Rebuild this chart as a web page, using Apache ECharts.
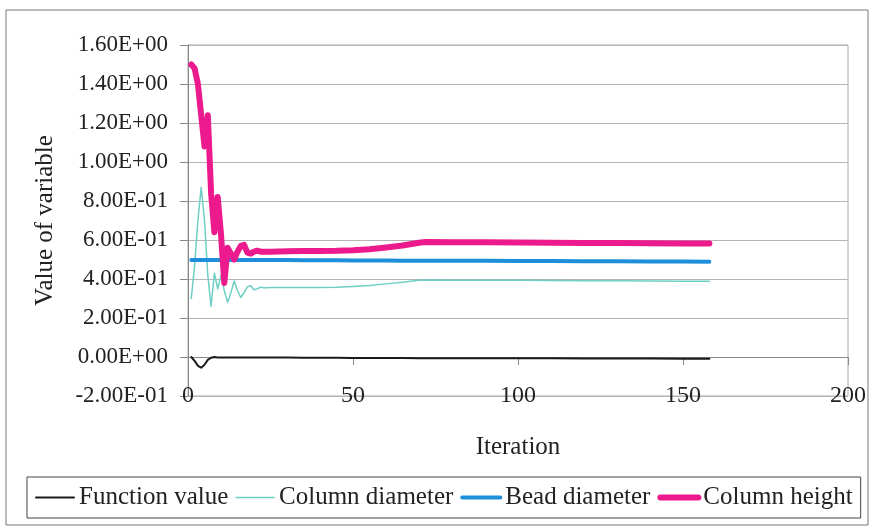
<!DOCTYPE html>
<html>
<head>
<meta charset="utf-8">
<script src="https://cdn.jsdelivr.net/npm/echarts@6/dist/echarts.min.js"></script>
<style>
html,body{margin:0;padding:0;background:#fff;}
#chart{width:875px;height:530px;}
</style>
</head>
<body>
<div id="chart"></div>
<script>
const iterations = [1,2,3,4,5,6,7,8,9,10,11,12,13,14,15,16,17,18,19,20,21,22,23,24,25,
  30,35,40,45,50,55,60,65,70,72,80,90,100,110,120,130,140,150,158];
const functionValue = [0.000,-0.020,-0.045,-0.055,-0.040,-0.015,-0.004,0.000,-0.002,-0.003,-0.003,-0.003,-0.003,-0.003,-0.003,-0.003,-0.003,-0.003,-0.003,-0.003,-0.003,-0.003,-0.003,-0.003,-0.003,
  -0.003,-0.004,-0.004,-0.004,-0.005,-0.005,-0.005,-0.005,-0.006,-0.006,-0.006,-0.006,-0.007,-0.007,-0.008,-0.008,-0.008,-0.009,-0.009];
const columnDiameter = [0.30,0.47,0.70,0.87,0.70,0.42,0.26,0.43,0.35,0.42,0.34,0.28,0.33,0.39,0.34,0.305,0.33,0.36,0.365,0.345,0.35,0.358,0.355,0.355,0.356,
  0.356,0.356,0.357,0.358,0.362,0.367,0.375,0.383,0.393,0.395,0.394,0.393,0.393,0.392,0.391,0.391,0.390,0.389,0.389];
const beadDiameter = [0.497,0.497,0.497,0.497,0.497,0.497,0.497,0.497,0.497,0.497,0.497,0.497,0.497,0.497,0.497,0.497,0.497,0.497,0.497,0.497,0.497,0.497,0.497,0.497,0.497,
  0.497,0.496,0.496,0.496,0.495,0.495,0.495,0.494,0.494,0.494,0.493,0.493,0.492,0.492,0.491,0.491,0.490,0.490,0.489];
const columnHeight = [1.50,1.48,1.40,1.24,1.08,1.24,0.84,0.64,0.82,0.63,0.38,0.56,0.53,0.50,0.54,0.57,0.575,0.535,0.53,0.54,0.545,0.54,0.54,0.54,0.54,
  0.542,0.543,0.544,0.545,0.548,0.553,0.562,0.572,0.586,0.590,0.589,0.588,0.587,0.586,0.585,0.584,0.583,0.582,0.582];

const seriesNames = ['Function value','Column diameter','Bead diameter','Column height'];
const seriesColors = ['#1a1a1a','#6fcfc6','#1f8fdc','#ec1a8c'];
const seriesWidths = [2,1.5,4,6];
const xMin = 0, xMax = 200, xStep = 50;
const yMin = -0.2, yMax = 1.6, yStep = 0.2;

function pairs(vals){ return iterations.map((it,i)=>[it, vals[i]]); }
function fmtExp(v){
  if (Math.abs(v) < 1e-9) v = 0;
  const s = v.toExponential(2);
  const parts = s.split('e');
  const e = parseInt(parts[1], 10);
  const sign = e < 0 ? '-' : '+';
  return parts[0] + 'E' + sign + String(Math.abs(e)).padStart(2,'0');
}

const FONT = 'Liberation Serif';
const TXT = '#222';
const valueSets = [functionValue, columnDiameter, beadDiameter, columnHeight];
const chart = echarts.init(document.getElementById('chart'));
chart.setOption({
  animation:false,
  backgroundColor:'#fff',
  textStyle:{fontFamily:FONT},
  graphic:[{type:'rect', shape:{x:6,y:10,width:862,height:515}, style:{fill:'none', stroke:'#777', lineWidth:1}, silent:true}],
  grid:{left:188, right:27, top:45, bottom:134, show:true, borderColor:'#aaa', borderWidth:1},
  legend:{
    left:27, top:477, orient:'horizontal',
    padding:[8,8,8,8], itemGap:7, itemWidth:38, itemHeight:14,
    borderColor:'#444', borderWidth:1,
    itemStyle:{opacity:0},
    textStyle:{fontFamily:FONT, fontSize:25, color:TXT},
    data:seriesNames.map((n,i)=>({name:n, lineStyle:{width:seriesWidths[i], color:seriesColors[i], cap:'round'}}))
  },
  xAxis:[{
    type:'value', min:xMin, max:xMax, interval:xStep, position:'bottom',
    axisLine:{show:true, onZero:true, lineStyle:{color:'#888', width:1}},
    axisTick:{show:true, inside:false, length:8, lineStyle:{color:'#888'}},
    axisLabel:{show:false}, splitLine:{show:false}
  },{
    type:'value', min:xMin, max:xMax, interval:xStep, position:'bottom',
    axisLine:{show:false, onZero:false}, axisTick:{show:false}, splitLine:{show:false},
    axisLabel:{show:true, margin:-12, fontFamily:FONT, fontSize:24, color:TXT},
    name:'Iteration', nameLocation:'middle', nameGap:39,
    nameTextStyle:{fontFamily:FONT, fontSize:25, color:TXT}
  }],
  yAxis:{
    type:'value', min:yMin, max:yMax, interval:yStep,
    axisLine:{show:true, onZero:false, lineStyle:{color:'#888'}},
    axisTick:{show:true, inside:false, length:8, lineStyle:{color:'#888'}},
    splitLine:{show:true, lineStyle:{color:'#b5b5b5', width:1}},
    axisLabel:{formatter:fmtExp, margin:20, fontFamily:FONT, fontSize:23, color:TXT},
    name:'Value of variable', nameLocation:'middle', nameGap:130, nameRotate:90,
    nameTextStyle:{fontFamily:FONT, fontSize:25, color:TXT}
  },
  series:seriesNames.map((n,i)=>({
    name:n, type:'line', xAxisIndex:0, data:pairs(valueSets[i]), showSymbol:false, symbol:'none',
    lineStyle:{color:seriesColors[i], width:seriesWidths[i], cap:'round', join:'round'},
    itemStyle:{color:seriesColors[i]}, z:3+i
  }))
});
</script>
</body>
</html>
